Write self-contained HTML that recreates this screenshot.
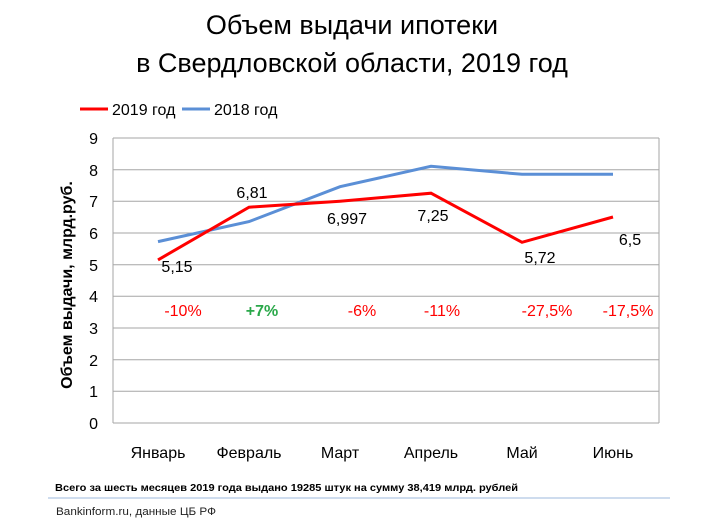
<!DOCTYPE html>
<html><head><meta charset="utf-8"><style>
body{margin:0;background:#fff;}
svg{display:block;font-family:"Liberation Sans","DejaVu Sans",sans-serif;}
</style></head><body>
<svg width="705" height="523" viewBox="0 0 705 523">
<text x="352" y="34" font-size="27" text-anchor="middle" fill="#000">Объем выдачи ипотеки</text>
<text x="352" y="72" font-size="27" text-anchor="middle" fill="#000">в Свердловской области, 2019 год</text>
<line x1="80" y1="109" x2="108" y2="109" stroke="#f00" stroke-width="3"/>
<text x="112" y="115" font-size="16">2019 год</text>
<line x1="182" y1="109" x2="210" y2="109" stroke="#5b8fd6" stroke-width="3"/>
<text x="214" y="115" font-size="16">2018 год</text>
<g stroke="#a6a6a6" stroke-width="1">
<line x1="113" y1="138" x2="659" y2="138"/>
<line x1="113" y1="169.7" x2="659" y2="169.7"/>
<line x1="113" y1="201.3" x2="659" y2="201.3"/>
<line x1="113" y1="233" x2="659" y2="233"/>
<line x1="113" y1="264.7" x2="659" y2="264.7"/>
<line x1="113" y1="296.3" x2="659" y2="296.3"/>
<line x1="113" y1="328" x2="659" y2="328"/>
<line x1="113" y1="359.7" x2="659" y2="359.7"/>
<line x1="113" y1="391.3" x2="659" y2="391.3"/>
<line x1="113" y1="423" x2="659" y2="423"/>
<line x1="113" y1="138" x2="113" y2="423"/>
<line x1="659" y1="138" x2="659" y2="423"/>
</g>
<g font-size="16" text-anchor="end">
<text x="98" y="144">9</text><text x="98" y="176">8</text><text x="98" y="207">7</text>
<text x="98" y="239">6</text><text x="98" y="271">5</text><text x="98" y="302">4</text>
<text x="98" y="334">3</text><text x="98" y="366">2</text><text x="98" y="397">1</text>
<text x="98" y="429">0</text>
</g>
<text transform="translate(72,285) rotate(-90)" font-size="16" font-weight="bold" text-anchor="middle">Объем выдачи, млрд.руб.</text>
<g font-size="16" text-anchor="middle">
<text x="158" y="458">Январь</text><text x="249" y="458">Февраль</text><text x="340" y="458">Март</text>
<text x="431" y="458">Апрель</text><text x="522" y="458">Май</text><text x="613" y="458">Июнь</text>
</g>
<polyline fill="none" stroke="#5b8fd6" stroke-width="3" points="158,241.6 249,221.6 340,186.7 431,166.3 522,174.3 613,174.3"/>
<polyline fill="none" stroke="#f00" stroke-width="3" points="158,259.9 249,207.2 340,201.2 431,193.2 522,242.3 613,217"/>
<g font-size="16" text-anchor="middle">
<text x="177" y="272">5,15</text><text x="252" y="198">6,81</text><text x="347" y="224">6,997</text>
<text x="433" y="221">7,25</text><text x="540" y="263">5,72</text><text x="630" y="245">6,5</text>
</g>
<g font-size="16" text-anchor="middle" fill="#f00">
<text x="183" y="316">-10%</text>
<text x="262" y="316" fill="#2aa84a" font-weight="bold">+7%</text>
<text x="362" y="316">-6%</text><text x="442" y="316">-11%</text>
<text x="547" y="316">-27,5%</text><text x="628" y="316">-17,5%</text>
</g>
<text x="55" y="491" font-size="10" font-weight="bold" textLength="463" lengthAdjust="spacingAndGlyphs">Всего за шесть месяцев 2019 года  выдано 19285  штук на сумму 38,419 млрд.  рублей</text>
<line x1="48" y1="498" x2="670" y2="498" stroke="#9cb8dd" stroke-width="1"/>
<text x="56" y="515" font-size="11" fill="#222" textLength="160" lengthAdjust="spacingAndGlyphs">Bankinform.ru,  данные ЦБ РФ</text>
</svg>
</body></html>
